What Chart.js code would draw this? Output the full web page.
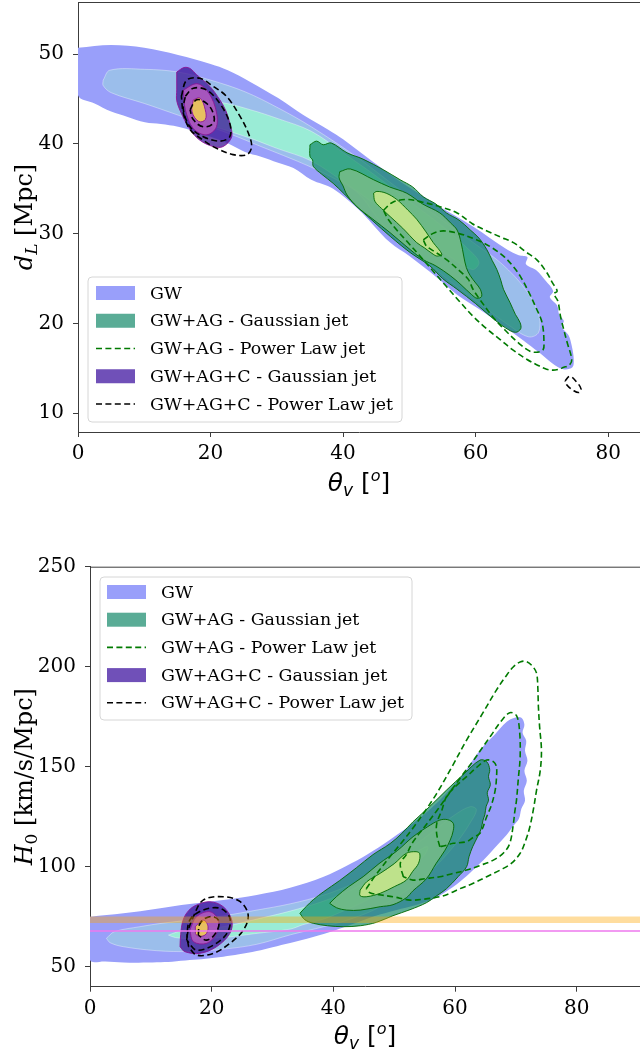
<!DOCTYPE html>
<html><head><meta charset="utf-8">
<script src="https://cdn.jsdelivr.net/npm/chart.js@4.4.1/dist/chart.umd.min.js"></script>
<style>
html,body{margin:0;padding:0;background:#fff;width:640px;height:1058px;overflow:hidden;}
#c1{position:absolute;left:0;top:0;width:640px;height:500px;}
#c2{position:absolute;left:0;top:520px;width:640px;height:538px;}
</style></head><body>
<canvas id="c1" width="640" height="500"></canvas>
<canvas id="c2" width="640" height="538"></canvas>
<script>
// ---------- tick labels ----------
const topXTicks = [0, 20, 40, 60, 80];
const topYTicks = [10, 20, 30, 40, 50];
const botXTicks = [0, 20, 40, 60, 80];
const botYTicks = [50, 100, 150, 200, 250];
const legendLabels = ['GW', 'GW+AG - Gaussian jet', 'GW+AG - Power Law jet', 'GW+AG+C - Gaussian jet', 'GW+AG+C - Power Law jet'];

// ---------- top panel: theta_v [deg] vs d_L [Mpc] ----------
const gwTop1 = [[0,50.7],[5,51],[10,50.7],[15.1,49.9],[20,48.9],[22.6,48.2],[26,46.9],[30.2,45.1],[34,43.2],[37.7,41.6],[40,40.5],[44.5,38],[49,35.6],[54.6,33],[59.6,30.8],[64.8,28.2],[66.5,27.6],[67.8,27.4],[67.6,26.6],[69.2,25.9],[70.5,24.8],[71.7,23.6],[71.2,22.9],[72.3,22],[72.6,21],[73.3,20.3],[73.0,19.6],[74.0,18.7],[74.5,17.5],[74.8,16],[74.6,15.1],[73.2,14.9],[71.5,15.6],[69.5,16.8],[67.2,18.1],[64,19.8],[60.5,21.6],[57.2,23.2],[54,25.2],[50,27.5],[47.1,29],[44.5,31],[42.3,32.7],[38.5,35],[35.2,36],[32.5,37.3],[30.2,37.9],[27.5,38.6],[25.2,39.1],[22.5,40.1],[20,40.8],[17.5,41.4],[15.1,41.9],[12.5,42.2],[10.1,42.4],[7.5,43],[5,43.6],[2.5,44.5],[0,45.4]];
const gwTop2 = [[3.8,47.1],[4.8,48.2],[10.1,48.3],[15.1,48],[20,47.1],[25.2,45.8],[30.2,44],[35.2,41.9],[42.3,38.4],[48,35.2],[54,32],[60,28.8],[64,26.6],[67.5,23.8],[69.5,21],[69.5,19],[68,18.5],[65,19.8],[61,22],[56,24.8],[50,28.5],[46,31],[42.3,34.5],[38.5,36.2],[35.2,37.4],[31,38.7],[27.6,39.7],[24,40.8],[20,41.9],[15.1,43.2],[10,44.5],[5,45.7],[3.8,46.5]];
const gwTop3 = [[16,44.8],[21.6,44.6],[26,43.8],[30.2,42.8],[35.2,41.4],[40,39],[45,36.4],[50,33.6],[55,30.8],[59,28.2],[60.5,26.8],[59.5,26],[56,27.5],[50,30.6],[45,33.2],[40,35.8],[35.2,38.1],[30,39.5],[26.1,40.6],[22,41.6],[18,42.6],[16,43.6]];
const gaTop1 = [[35,39.9],[36,40.3],[37,39.9],[38.2,40.1],[40.6,39],[43,38.3],[46.1,37.1],[48.6,36],[50.5,35.2],[52.1,34.1],[54,33.3],[55.6,32.3],[57.5,31.5],[59.2,30.4],[60.5,29.5],[61.7,28.2],[62.5,27],[63.2,26],[63.8,24.8],[64.2,23.8],[65.2,22.3],[66,21],[66.7,20.1],[66.8,19.4],[66,19],[64.5,19.5],[62.2,20.8],[60,22.2],[57.2,23.8],[55,25],[53.1,26.4],[50.1,27.9],[47.1,29.7],[44.5,31.4],[42.1,33],[40.2,34.4],[38.5,35.6],[36.8,36.6],[35.5,37.5],[35.4,38.2],[35,38.6]];
const gaTop2 = [[39.5,36.9],[41.1,37.2],[44.6,36],[47,35.2],[49.6,34.5],[52,33.3],[54.6,32.3],[56.2,31.2],[57.2,30.4],[57.8,29],[58.2,27.5],[58.6,26.2],[59.2,25.3],[60,24.5],[60.7,23.8],[60.9,23],[60.2,22.8],[59.4,23.2],[57.8,24.3],[56.2,25.3],[54,26.4],[52.1,27.1],[49.5,28.6],[47.1,30.1],[44.5,31.6],[42.1,33],[40.6,34.3],[40,35.3],[39.4,36.2]];
const gaTop3 = [[44.6,34.5],[45.1,34.7],[46.5,34.5],[48.1,33.8],[49.8,32.6],[51.1,31.6],[52.5,30.2],[53.6,29],[54.9,27.7],[54.2,27.5],[53.6,27.7],[52.3,28.4],[51.1,29],[49,30.6],[47.1,31.9],[45.8,32.8],[44.8,33.6]];
const paTop1 = [[46.1,32.6],[47.5,33.5],[49.6,33.8],[52,33.5],[54.6,33.0],[57.2,32.3],[59.5,31.1],[61.7,30.3],[63.8,29.6],[65.7,29],[67.5,28],[69.2,27.1],[70.7,25.7],[71.6,24.5],[72.3,23.6],[71.8,23.3],[72.4,22.5],[72.8,20.8],[73.3,19.3],[73.8,17.9],[74.5,16],[74.2,15.4],[73.3,15.1],[72,14.8],[70.7,14.9],[69.2,15.4],[67.7,16],[65.5,17.1],[63.7,18.2],[61.5,19.5],[59.6,20.8],[57.5,22.5],[55.6,24.1],[53.5,25.9],[51.6,27.5],[49.8,29],[48.1,30.4],[46.8,31.6]];
const paTop2 = [[52.1,29.3],[53.5,30],[55.1,30.3],[57.5,30],[60.2,29.3],[62.3,28.5],[64.2,27.5],[65.6,26.4],[66.7,25.3],[68,23.5],[69.2,21.6],[69.9,20.4],[70.2,19.3],[70.3,18],[70.2,17.1],[69.4,16.8],[68.2,16.9],[66.5,17.8],[64.5,19.2],[62.5,20.8],[60.7,22.6],[59.6,23.8],[58.9,24.9],[57.5,25.9],[55.6,27.1],[53.8,28],[52.6,28.6]];
const cgTop1 = [[14.9,48],[16,48.5],[16.9,48.4],[17.9,47.7],[19.9,46.4],[21.4,44.9],[22.3,43.7],[22.9,42.3],[23.2,40.8],[21.9,39.7],[20.4,39.7],[18.4,40.4],[16.9,41.6],[15.6,43.4],[14.9,44.8],[14.9,46]];
const cgTop2 = [[15.9,46],[17.9,46.7],[19.4,46],[20.7,44.1],[20.9,41.9],[19.4,41],[17.4,41.7],[16.2,43.8]];
const cgTop3 = [[17.4,44.9],[18.4,45.1],[19.2,43.8],[19.2,42.7],[18.2,42.5],[17.2,43.6]];
const cpTop1 = [[15.6,45.3],[16.4,47.1],[18.4,47.3],[20.4,46.4],[22.4,45.3],[24.5,43],[25.7,41.2],[26.2,39.7],[25.5,38.8],[23.4,38.8],[20.9,39.5],[18.9,40.4],[16.9,41.6],[15.9,43.4]];
const cpTop2 = [[16.2,45.3],[17.4,46.2],[19.4,46],[21.4,44.5],[22.9,42.3],[22.9,40.8],[21.4,40.3],[18.9,40.8],[16.9,41.9],[15.9,43.8]];
const cpTop3 = [[16.9,43.8],[17.9,44.9],[19.4,44.5],[20.4,43.4],[20.4,42.3],[18.9,41.9],[17.4,42.7]];
const cpTop4 = [[73.5,13.6],[74.2,14.1],[75.2,13.5],[75.9,12.7],[75.6,12.3],[74.8,12.5],[73.8,13.1]];

// ---------- bottom panel: theta_v [deg] vs H0 [km/s/Mpc] ----------
const gwBot1 = [[0,75],[5.5,76.7],[11,79],[16.4,81.3],[21.9,83.3],[27.4,85.9],[32.9,89.5],[38.4,95],[42.2,100.5],[45.5,106],[49.3,113.5],[53.1,121.7],[56,129],[58.6,136.7],[61.5,147],[64.1,158.3],[66.5,166],[68.5,172.5],[69.8,174.5],[70.9,174.5],[71.4,171],[71.1,167],[71.7,163],[71.5,158],[71.9,153],[71.4,148],[71.8,143],[71.3,138],[71.5,133],[70.9,129],[70.5,124],[69.6,120.5],[68.5,116],[67,111],[65.2,105],[63,98.5],[60.8,92.5],[58.5,87.5],[56.4,83.8],[53,80.3],[49.3,77.5],[46,74.5],[43.8,72],[41,69],[38.4,66.3],[35.5,63.8],[32.9,61.8],[30,59.7],[27.4,57.8],[24.5,56.2],[21.9,55],[19,54],[16.4,53.3],[13.5,52.5],[11,52.2],[8,52],[5.5,52.1],[2.5,52.6],[0,53.3]];
const gwBot2 = [[2.7,64.2],[4,67.5],[8.2,70],[12,71.8],[16.4,73.3],[22,75.5],[27.4,78.3],[33,81.5],[38.4,85.8],[42.5,90.5],[46.6,96.7],[50,103.5],[53.5,111],[57,119],[60,126],[62.5,130],[63.5,128.5],[62.5,122],[60.5,113],[58,104],[55,95],[51,86],[46.6,78.3],[42.5,73.5],[38.4,70],[33,66],[27.4,61.2],[22,58.8],[16.4,57.6],[11,58],[5.5,60],[3.3,62]];
const gwBot3 = [[12.9,65.8],[15,68],[18,69.2],[21.9,70],[27,73.5],[32.9,77.8],[38.4,82.8],[43,88.5],[47,95],[51,102],[54,108],[55.5,110],[55,106],[52.5,98.5],[49,90],[45,82.5],[41,77],[38.4,73.8],[35,71],[32.9,68.8],[27,66.5],[21.9,64.6],[17,64],[14,64.6]];
const gaBot1 = [[34.5,76.7],[35.5,80],[36.7,83.5],[38.4,87.5],[41,93],[43.8,99.5],[46.5,106],[49.3,111.5],[51.2,116.5],[53.1,122.5],[55.8,130],[58.6,138.3],[61.5,146.5],[64.1,153.3],[65.2,152.5],[65.7,148.5],[65.5,145],[65.8,141],[65.3,137],[65.5,133.3],[65.1,130],[64.9,126],[64.6,123.3],[64.3,119],[63.8,115.5],[62.9,110],[62.3,105],[61.9,100],[60.5,95],[58.6,89],[57,85.5],[55.3,82],[52.6,78.5],[49.8,75.5],[47.1,72.2],[44.5,70.5],[41.6,70],[39,70.5],[36.7,71.7],[35.3,73.5]];
const gaBot2 = [[39.4,81.7],[40.5,85],[42.5,90],[44.9,95],[47.5,101.5],[50.5,108],[53.1,115],[55.5,120],[57.5,123.3],[58.8,123.5],[59.7,121.7],[59.7,118],[59.2,113.3],[58.3,108],[56.9,101.7],[55.3,94],[53.1,88],[52,84.5],[49.8,81],[47.7,80],[44.4,78.3],[42.2,78.3],[40.5,79.5]];
const gaBot3 = [[44.4,88.3],[45.5,92.5],[47.7,96.7],[50,101.5],[52,106.7],[53.6,107.5],[54.2,106.5],[54,101.7],[53,97.5],[52,93.3],[50,90],[47.7,86.7],[45.5,85],[44.4,85.5]];
const paBot1 = [[45.4,89],[47,96],[49.3,105],[51.2,112],[53,119],[55,127.5],[57,136.7],[59.5,150],[61.9,163.3],[64.5,176.5],[66.8,188.3],[68.3,195],[69.6,200],[70.8,202.5],[71.8,202.5],[72.8,200],[73.4,196.7],[73.6,190],[73.7,180],[73.9,170],[74.2,158.3],[74,148],[73.4,138.3],[72.9,129],[72.3,120],[71.6,113],[70.7,106.7],[69.2,101.5],[67.4,98.3],[65.2,95],[63,91.7],[60.8,89],[59,86.5],[57.5,85],[55,83.8],[52.6,83.3],[49.8,85],[47.5,86],[46,87]];
const paBot2 = [[51.5,95],[51,101.7],[52,106],[53,112],[55,120],[57,128],[59,136.5],[61,145],[63,153],[64.6,160],[66,166],[67.5,172.5],[69,177],[70.1,175.5],[70.6,168],[70.7,155],[70.4,144],[70.1,133.3],[69.8,127],[69.6,121.7],[69,111.7],[68,107],[66.3,103.3],[64,100.5],[61.9,98.3],[59.5,96.5],[57.5,95],[55,94],[53.1,93.3]];
const paBot3 = [[57.5,110],[57,116],[57,121.7],[57.8,128],[58.6,135],[60.2,140.5],[61.9,145],[63.5,149.5],[65.2,153.3],[66.3,152.5],[66.8,150],[66.8,144],[66.6,138.3],[66,131],[65.2,125],[64.1,116.7],[62.9,114.5],[61.9,112.5],[59.7,111.7],[58.3,110.5]];
const cgBot1 = [[14.8,60],[14.9,66],[15.3,73.3],[16.2,78],[17.5,80.8],[19.7,82.5],[21.9,80],[23.3,73.3],[23,66.7],[20.8,60],[18.1,56.7],[15.6,57.5]];
const cgBot2 = [[16.4,68.3],[17.5,75],[19.7,77.5],[21.1,73.3],[20.8,66.7],[19.2,61.7],[17,62.5]];
const cgBot3 = [[17.3,70],[18.6,73.3],[19.4,70],[18.9,65.8],[17.5,65.8]];
const cpBot1 = [[16.2,60],[16,66],[17,75],[18.6,83.3],[21.9,85],[24.7,82.5],[26,75.8],[25.2,68.3],[23,61.7],[20.3,56.7],[17.5,55.8]];
const cpBot2 = [[15.9,63.3],[16.4,73.3],[18.6,78.3],[21.4,79.2],[23,74.2],[22.5,66.7],[20.3,60.8],[17.5,58.3]];
const cpBot3 = [[17.8,65.8],[18.1,71.7],[19.7,75],[21.1,73.3],[20.8,67.5],[19.2,63.3]];
const h0ShoesBand = [71.9, 75.1];
const h0PlanckBand = [67.3, 68.3];

// ---------- styles ----------
const C = {
  gw1: '#999ffa', gw2: '#9bbeeb', gw3: '#9aecd6', gwLine: 'rgba(255,255,255,0.45)',
  ga1: 'rgba(13,134,100,0.68)', ga2: 'rgba(123,190,135,0.8)', ga3: 'rgba(210,236,140,0.8)', gaLine: 'rgba(0,105,0,0.9)',
  cg1: 'rgba(60,20,150,0.75)', cg2: 'rgba(192,95,195,0.75)', cg3: 'rgba(254,228,65,0.75)', cgLine: 'rgba(140,20,150,0.9)',
  pa: '#007a00', cp: '#000000',
  shoes: 'rgba(255,165,0,0.38)', planck: 'rgba(238,120,238,0.75)',
  gaSwatch: '#5aac96', cgSwatch: '#7050b8'
};
const DASH = [6, 3.4];
const DASH_W = 1.6;
const SERIF = '"DejaVu Serif", serif';
const SANS = '"DejaVu Sans", sans-serif';

function poly(arr, o) {
  const pts = arr.map(([x, y]) => ({x, y}));
  pts.push({x: pts[0].x, y: pts[0].y});
  return Object.assign({type: 'line', data: pts, showLine: true, pointRadius: 0, pointHoverRadius: 0,
    tension: 0.35, borderWidth: 0, borderColor: 'transparent', fill: false, parsing: true}, o);
}
function filled(arr, color, line, lw, t) {
  return poly(arr, {fill: 'shape', backgroundColor: color, borderColor: line || 'transparent', borderWidth: line ? (lw || 1) : 0, tension: t === undefined ? 0.35 : t});
}
function dashed(arr, color, t) {
  return poly(arr, {borderColor: color, borderWidth: DASH_W, borderDash: DASH, tension: t === undefined ? 0.35 : t});
}
function band(lims, color) {
  return poly([[-10, lims[0]], [200, lims[0]], [200, lims[1]], [-10, lims[1]]], {fill: 'shape', backgroundColor: color, tension: 0});
}
function ordered(list) {
  const n = list.length;
  list.forEach((d, i) => { d.order = n - i; });
  return list;
}

// ---------- plugins ----------
function richWidth(ctx, segs) {
  let w = 0;
  segs.forEach(s => { ctx.font = s.f; w += ctx.measureText(s.t).width; });
  return w;
}
function drawRich(ctx, segs, x, y) {
  let cx = x;
  segs.forEach(s => { ctx.font = s.f; ctx.fillText(s.t, cx, y + (s.dy || 0)); cx += ctx.measureText(s.t).width; });
}
const decorPlugin = {
  id: 'decor',
  afterDraw(chart, args, opts) {
    const ctx = chart.ctx, a = chart.chartArea;
    ctx.save();
    ctx.strokeStyle = '#3c3c3c'; ctx.lineWidth = 1;
    ctx.beginPath(); ctx.moveTo(a.left, a.top + 0.5); ctx.lineTo(a.right, a.top + 0.5); ctx.stroke();
    ctx.fillStyle = '#000'; ctx.textBaseline = 'alphabetic';
    const xw = richWidth(ctx, opts.xTitle);
    drawRich(ctx, opts.xTitle, (a.left + a.right) / 2 - xw / 2, opts.xTitleY);
    const yw = richWidth(ctx, opts.yTitle);
    ctx.translate(opts.yTitleX, (a.top + a.bottom) / 2);
    ctx.rotate(-Math.PI / 2);
    drawRich(ctx, opts.yTitle, -yw / 2, 0);
    ctx.restore();
    const L = opts.legend;
    ctx.save();
    const r = 4;
    ctx.beginPath();
    ctx.moveTo(L.x + r, L.y); ctx.lineTo(L.x + L.w - r, L.y); ctx.quadraticCurveTo(L.x + L.w, L.y, L.x + L.w, L.y + r);
    ctx.lineTo(L.x + L.w, L.y + L.h - r); ctx.quadraticCurveTo(L.x + L.w, L.y + L.h, L.x + L.w - r, L.y + L.h);
    ctx.lineTo(L.x + r, L.y + L.h); ctx.quadraticCurveTo(L.x, L.y + L.h, L.x, L.y + L.h - r);
    ctx.lineTo(L.x, L.y + r); ctx.quadraticCurveTo(L.x, L.y, L.x + r, L.y); ctx.closePath();
    ctx.fillStyle = 'rgba(255,255,255,0.85)'; ctx.fill();
    ctx.strokeStyle = '#d6d6d6'; ctx.lineWidth = 1; ctx.stroke();
    const items = [
      {type: 'fill', color: C.gw1}, {type: 'fill', color: C.gaSwatch}, {type: 'dash', color: C.pa},
      {type: 'fill', color: C.cgSwatch}, {type: 'dash', color: C.cp}
    ];
    items.forEach((it, i) => {
      const cy = L.y + L.firstY + i * L.rowH;
      if (it.type === 'fill') {
        ctx.fillStyle = it.color; ctx.fillRect(L.x + L.sx, cy - 7, 39, 14);
      } else {
        ctx.strokeStyle = it.color; ctx.lineWidth = DASH_W; ctx.setLineDash(DASH);
        ctx.beginPath(); ctx.moveTo(L.x + L.sx, cy); ctx.lineTo(L.x + L.sx + 39, cy); ctx.stroke(); ctx.setLineDash([]);
      }
      ctx.fillStyle = '#000'; ctx.font = '17.4px ' + SERIF; ctx.textBaseline = 'middle';
      ctx.fillText(legendLabels[i], L.x + L.tx, cy + 1);
    });
    ctx.restore();
  }
};

function axes(xmin, xmax, ymin, ymax, xt, yt, yW, xH) {
  const tickFont = {family: SERIF, size: 20};
  const common = {
    type: 'linear',
    grid: {display: true, drawOnChartArea: false, drawTicks: true, tickLength: 5, tickColor: '#3c3c3c', tickWidth: 1},
    border: {display: true, color: '#3c3c3c', width: 1}
  };
  return {
    x: Object.assign({}, common, {min: xmin, max: xmax, position: 'bottom',
      afterBuildTicks: s => { s.ticks = xt.map(v => ({value: v})); },
      afterFit: s => { s.height = xH; s.paddingLeft = 0; s.paddingRight = 0; },
      ticks: {font: tickFont, color: '#000', padding: 5, maxRotation: 0, autoSkip: false, callback: v => String(v)}}),
    y: Object.assign({}, common, {min: ymin, max: ymax, position: 'left',
      afterBuildTicks: s => { s.ticks = yt.map(v => ({value: v})); },
      afterFit: s => { s.width = yW; s.paddingTop = 0; s.paddingBottom = 0; },
      ticks: {font: tickFont, color: '#000', padding: 9, autoSkip: false, callback: v => String(v)}})
  };
}

const xTitleSegs = [
  {t: 'θ', f: 'italic 25px ' + SANS}, {t: 'v', f: 'italic 17px ' + SANS, dy: 5},
  {t: ' [', f: '25px ' + SANS}, {t: 'o', f: 'italic 16px ' + SANS, dy: -10}, {t: ']', f: '25px ' + SANS}
];

// ---------- top chart ----------
const topDatasets = ordered([
  filled(gwTop1, C.gw1),
  filled(gwTop2, C.gw2, C.gwLine, 0.8),
  filled(gwTop3, C.gw3, C.gwLine, 0.8),
  filled(gaTop1, C.ga1, C.gaLine, 1),
  filled(gaTop2, C.ga2, C.gaLine, 1),
  filled(gaTop3, C.ga3, C.gaLine, 1),
  dashed(paTop1, C.pa),
  dashed(paTop2, C.pa),
  filled(cgTop1, C.cg1, C.cgLine, 1),
  filled(cgTop2, C.cg2, C.cgLine, 1),
  filled(cgTop3, C.cg3, C.cgLine, 1, 0.4),
  dashed(cpTop1, C.cp),
  dashed(cpTop2, C.cp),
  dashed(cpTop3, C.cp, 0.4),
  dashed(cpTop4, C.cp, 0.4)
]);

new Chart(document.getElementById('c1'), {
  type: 'scatter',
  data: {datasets: topDatasets},
  options: {
    responsive: false, animation: false, events: [],
    layout: {padding: {top: 2, left: 0, right: 0, bottom: 0}},
    scales: axes(0, 84.8, 7.9, 55.8, topXTicks, topYTicks, 78, 68),
    plugins: {
      legend: {display: false}, tooltip: {enabled: false},
      decor: {
        xTitle: xTitleSegs, xTitleY: 491,
        yTitle: [{t: 'd', f: 'italic 24px ' + SERIF}, {t: 'L', f: 'italic 17px ' + SERIF, dy: 5}, {t: ' [Mpc]', f: '24px ' + SERIF}],
        yTitleX: 32,
        legend: {x: 88, y: 277, w: 314, h: 145, firstY: 16, rowH: 27.75, sx: 8, tx: 62}
      }
    }
  },
  plugins: [decorPlugin]
});

// ---------- bottom chart ----------
const botDatasets = ordered([
  filled(gwBot1, C.gw1),
  filled(gwBot2, C.gw2, C.gwLine, 0.8),
  filled(gwBot3, C.gw3, C.gwLine, 0.8),
  filled(gaBot1, C.ga1, C.gaLine, 1),
  filled(gaBot2, C.ga2, C.gaLine, 1),
  filled(gaBot3, C.ga3, C.gaLine, 1),
  dashed(paBot1, C.pa),
  dashed(paBot2, C.pa),
  dashed(paBot3, C.pa),
  filled(cgBot1, C.cg1, C.cgLine, 1),
  filled(cgBot2, C.cg2, C.cgLine, 1),
  filled(cgBot3, C.cg3, C.cgLine, 1, 0.4),
  dashed(cpBot1, C.cp),
  dashed(cpBot2, C.cp),
  dashed(cpBot3, C.cp, 0.4),
  band(h0ShoesBand, C.shoes),
  band(h0PlanckBand, C.planck)
]);

new Chart(document.getElementById('c2'), {
  type: 'scatter',
  data: {datasets: botDatasets},
  options: {
    responsive: false, animation: false, events: [],
    layout: {padding: {top: 46.7, left: 0, right: 0, bottom: 0}},
    scales: axes(0, 90.4, 40, 250, botXTicks, botYTicks, 90, 71.3),
    plugins: {
      legend: {display: false}, tooltip: {enabled: false},
      decor: {
        xTitle: xTitleSegs, xTitleY: 524,
        yTitle: [{t: 'H', f: 'italic 24px ' + SERIF}, {t: '0', f: '17px ' + SERIF, dy: 5}, {t: ' [km/s/Mpc]', f: '24px ' + SERIF}],
        yTitleX: 32,
        legend: {x: 100, y: 57, w: 312, h: 143, firstY: 15, rowH: 27.7, sx: 7, tx: 61}
      }
    }
  },
  plugins: [decorPlugin]
});
</script>
</body></html>
